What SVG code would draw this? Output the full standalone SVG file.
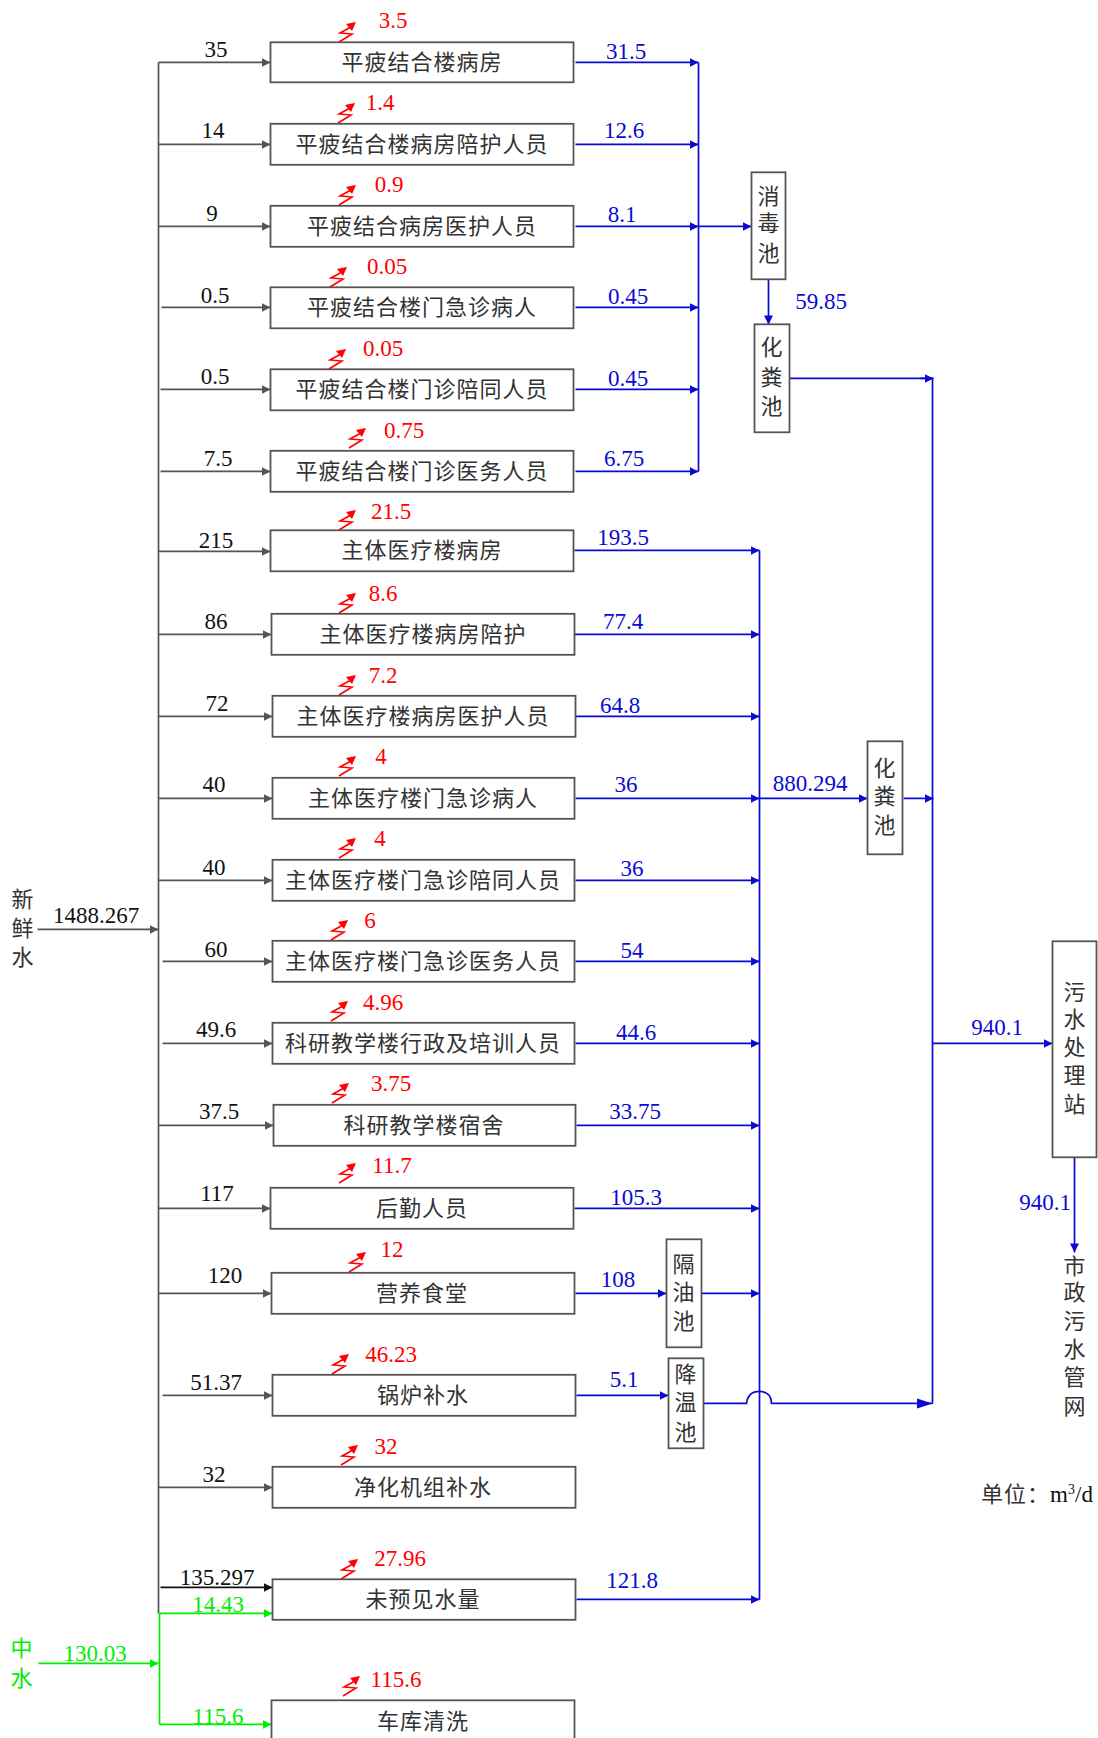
<svg xmlns="http://www.w3.org/2000/svg" xmlns:xlink="http://www.w3.org/1999/xlink" width="1098" height="1738" viewBox="0 0 1098 1738">
<style>
text{font-family:"Liberation Serif","Noto Sans CJK SC",serif;font-size:23px;text-anchor:middle}
.c{font-family:"Noto Sans CJK SC",sans-serif;font-size:22px;letter-spacing:1px;fill:#333}
.k{fill:#111}.r{fill:#f00}.b{fill:#0a0ad2}.g{fill:#0e0}
.box{fill:#fff;stroke:#555;stroke-width:1.8;transform:translate(.5px,.3px)}
.lb,.lk,.lg,.ld{fill:none;stroke-width:1.7;transform:translate(.5px,.4px)}
.lb{stroke:#0a0ad2}.lk{stroke:#555}.lg{stroke:#0e0}.ld{stroke:#111}
.ab{marker-end:url(#mb)}.ak{marker-end:url(#mk)}.ag{marker-end:url(#mg)}.ad{marker-end:url(#md)}
</style>
<defs>
<marker id="mb" markerUnits="userSpaceOnUse" markerWidth="10" markerHeight="10" refX="9" refY="5" orient="auto"><path d="M0,.5L9,5L0,9.5z" fill="#0a0ad2"/></marker>
<marker id="mk" markerUnits="userSpaceOnUse" markerWidth="10" markerHeight="10" refX="9" refY="5" orient="auto"><path d="M0,.5L9,5L0,9.5z" fill="#555"/></marker>
<marker id="mg" markerUnits="userSpaceOnUse" markerWidth="10" markerHeight="10" refX="9" refY="5" orient="auto"><path d="M0,.5L9,5L0,9.5z" fill="#0e0"/></marker>
<marker id="md" markerUnits="userSpaceOnUse" markerWidth="10" markerHeight="10" refX="9" refY="5" orient="auto"><path d="M0,.5L9,5L0,9.5z" fill="#111"/></marker>
<g id="z"><path d="M0,0L13,-8L1,-9L12,-15" fill="none" stroke="#f00" stroke-width="1.6"/><path d="M17,-20L7,-18L13,-11z" fill="#f00"/></g>
</defs>

<g id="connectors">
<path class="lk" d="M158,62V1613"/>
<path class="lk ak" d="M37,929H158"/>
<path class="lk ak" d="M158,62H270"/>
<path class="lk ak" d="M158,144H270"/>
<path class="lk ak" d="M158,226H270"/>
<path class="lk ak" d="M161,307H270"/>
<path class="lk ak" d="M160,389H270"/>
<path class="lk ak" d="M160,471H270"/>
<path class="lk ak" d="M158,551H270"/>
<path class="lk ak" d="M158,634H271"/>
<path class="lk ak" d="M158,716H272"/>
<path class="lk ak" d="M158,798H272"/>
<path class="lk ak" d="M158,880H272"/>
<path class="lk ak" d="M162,961H272"/>
<path class="lk ak" d="M162,1043H272"/>
<path class="lk ak" d="M158,1125H273"/>
<path class="lk ak" d="M158,1208H270"/>
<path class="lk ak" d="M158,1293H271"/>
<path class="lk ak" d="M162,1395H272"/>
<path class="lk ak" d="M158,1487H272"/>
<path class="ld ad" d="M160,1587H272"/>
<path class="lg" d="M159,1613V1724"/>
<path class="lg ag" d="M159,1613H272"/>
<path class="lg ag" d="M159,1724H271"/>
<path class="lg ag" d="M38,1663H158"/>

<path class="lb" d="M698,62V471"/>
<path class="lb ab" d="M575,62H698"/>
<path class="lb ab" d="M575,144H698"/>
<path class="lb ab" d="M575,226H698"/>
<path class="lb ab" d="M575,307H698"/>
<path class="lb ab" d="M575,389H698"/>
<path class="lb ab" d="M575,471H698"/>
<path class="lb ab" d="M698,226H751"/>
<path class="lb ab" d="M768,279V324"/>
<path class="lb" d="M789,378H932V1403"/>
<path class="lb ab" d="M920,378H933"/>
<path class="lb" d="M759,550V1599"/>
<path class="lb ab" d="M574,550H759"/>
<path class="lb ab" d="M574,634H759"/>
<path class="lb ab" d="M575,716H759"/>
<path class="lb ab" d="M575,798H759"/>
<path class="lb ab" d="M575,880H759"/>
<path class="lb ab" d="M575,961H759"/>
<path class="lb ab" d="M575,1043H759"/>
<path class="lb ab" d="M576,1125H759"/>
<path class="lb ab" d="M574,1208H759"/>
<path class="lb ab" d="M575,1293H666"/>
<path class="lb ab" d="M701,1293H759"/>
<path class="lb ab" d="M576,1395H668"/>
<path class="lb ab" d="M576,1599H759"/>
<path class="lb ab" d="M759,798H867"/>
<path class="lb ab" d="M903,798H933"/>
<path class="lb ab" d="M932,1043H1052"/>
<path class="lb ab" d="M1074,1157V1252"/>
<path class="lb" d="M703,1403H746C747,1395 752,1391 759,1391C766,1391 771,1395 771,1403H932"/>
<path d="M932.500,1403.400L917,1398.400V1408.400z" fill="#0a0ad2"/>

<text class="k" x="216" y="57">35</text><text class="k" x="213" y="138">14</text><text class="k" x="212" y="221">9</text>
<text class="k" x="215" y="303">0.5</text><text class="k" x="215" y="384">0.5</text><text class="k" x="218" y="466">7.5</text>
<text class="k" x="216" y="548">215</text><text class="k" x="216" y="629">86</text><text class="k" x="217" y="711">72</text>
<text class="k" x="214" y="792">40</text><text class="k" x="214" y="875">40</text><text class="k" x="216" y="957">60</text>
<text class="k" x="216" y="1037">49.6</text><text class="k" x="219" y="1119">37.5</text><text class="k" x="217" y="1201">117</text>
<text class="k" x="225" y="1283">120</text><text class="k" x="216" y="1390">51.37</text><text class="k" x="214" y="1482">32</text>
<text class="k" x="217" y="1585">135.297</text><text class="g" x="218" y="1612">14.43</text><text class="g" x="218" y="1724">115.6</text>
<text class="g" x="95" y="1661">130.03</text><text class="k" x="96" y="923">1488.267</text>

<text class="b" x="626" y="59">31.5</text><text class="b" x="624" y="138">12.6</text><text class="b" x="622" y="222">8.1</text>
<text class="b" x="628" y="304">0.45</text><text class="b" x="628" y="386">0.45</text><text class="b" x="624" y="466">6.75</text>
<text class="b" x="623" y="545">193.5</text><text class="b" x="623" y="629">77.4</text><text class="b" x="620" y="713">64.8</text>
<text class="b" x="626" y="792">36</text><text class="b" x="632" y="876">36</text><text class="b" x="632" y="958">54</text>
<text class="b" x="636" y="1040">44.6</text><text class="b" x="635" y="1119">33.75</text><text class="b" x="636" y="1205">105.3</text>
<text class="b" x="618" y="1287">108</text><text class="b" x="624" y="1387">5.1</text><text class="b" x="632" y="1588">121.8</text>
<text class="b" x="810" y="791">880.294</text><text class="b" x="821" y="309">59.85</text><text class="b" x="997" y="1035">940.1</text><text class="b" x="1045" y="1210">940.1</text>
</g>

<g id="n1"><rect class="box" x="270" y="42" width="303" height="40"/><text class="c" x="422" y="70">平疲结合楼病房</text><use xlink:href="#z" x="339" y="42"/><text class="r" x="393" y="28">3.5</text></g>
<g id="n2"><rect class="box" x="270" y="123.500" width="303" height="41"/><text class="c" x="422" y="152">平疲结合楼病房陪护人员</text><use xlink:href="#z" x="338" y="123"/><text class="r" x="380" y="110">1.4</text></g>
<g id="n3"><rect class="box" x="270" y="205.500" width="303" height="41"/><text class="c" x="422" y="234">平疲结合病房医护人员</text><use xlink:href="#z" x="339" y="205"/><text class="r" x="389" y="192">0.9</text></g>
<g id="n4"><rect class="box" x="270" y="287" width="303" height="41"/><text class="c" x="422" y="315">平疲结合楼门急诊病人</text><use xlink:href="#z" x="330" y="287"/><text class="r" x="387" y="274">0.05</text></g>
<g id="n5"><rect class="box" x="270" y="369" width="303" height="41"/><text class="c" x="422" y="397">平疲结合楼门诊陪同人员</text><use xlink:href="#z" x="329" y="369"/><text class="r" x="383" y="356">0.05</text></g>
<g id="n6"><rect class="box" x="270" y="450.500" width="303" height="41"/><text class="c" x="422" y="479">平疲结合楼门诊医务人员</text><use xlink:href="#z" x="349" y="448"/><text class="r" x="404" y="438">0.75</text></g>
<g id="n7"><rect class="box" x="270" y="530" width="303" height="41"/><text class="c" x="422" y="558">主体医疗楼病房</text><use xlink:href="#z" x="339" y="530"/><text class="r" x="391" y="519">21.5</text></g>
<g id="n8"><rect class="box" x="271" y="613.500" width="303" height="41"/><text class="c" x="423" y="642">主体医疗楼病房陪护</text><use xlink:href="#z" x="339" y="613"/><text class="r" x="383" y="601">8.6</text></g>
<g id="n9"><rect class="box" x="272" y="695.500" width="303" height="41"/><text class="c" x="423" y="724">主体医疗楼病房医护人员</text><use xlink:href="#z" x="339" y="695"/><text class="r" x="383" y="683">7.2</text></g>
<g id="n10"><rect class="box" x="272" y="777.500" width="302" height="41"/><text class="c" x="423" y="806">主体医疗楼门急诊病人</text><use xlink:href="#z" x="339" y="776"/><text class="r" x="381" y="764">4</text></g>
<g id="n11"><rect class="box" x="272" y="859.500" width="302" height="41"/><text class="c" x="423" y="888">主体医疗楼门急诊陪同人员</text><use xlink:href="#z" x="339" y="858"/><text class="r" x="380" y="846">4</text></g>
<g id="n12"><rect class="box" x="272" y="940.500" width="302" height="41"/><text class="c" x="423" y="969">主体医疗楼门急诊医务人员</text><use xlink:href="#z" x="331" y="940"/><text class="r" x="370" y="928">6</text></g>
<g id="n13"><rect class="box" x="272" y="1022.500" width="302" height="41"/><text class="c" x="423" y="1051">科研教学楼行政及培训人员</text><use xlink:href="#z" x="331" y="1021"/><text class="r" x="383" y="1010">4.96</text></g>
<g id="n14"><rect class="box" x="273" y="1104.500" width="302" height="41"/><text class="c" x="424" y="1133">科研教学楼宿舍</text><use xlink:href="#z" x="332" y="1103"/><text class="r" x="391" y="1091">3.75</text></g>
<g id="n15"><rect class="box" x="270" y="1187.500" width="303" height="41"/><text class="c" x="422" y="1216">后勤人员</text><use xlink:href="#z" x="339" y="1183"/><text class="r" x="392" y="1173">11.7</text></g>
<g id="n16"><rect class="box" x="271" y="1272.500" width="303" height="41"/><text class="c" x="422" y="1301">营养食堂</text><use xlink:href="#z" x="349" y="1272"/><text class="r" x="392" y="1257">12</text></g>
<g id="n17"><rect class="box" x="272" y="1374.500" width="303" height="41"/><text class="c" x="423" y="1403">锅炉补水</text><use xlink:href="#z" x="332" y="1374"/><text class="r" x="391" y="1362">46.23</text></g>
<g id="n18"><rect class="box" x="272" y="1466.500" width="303" height="41"/><text class="c" x="423" y="1495">净化机组补水</text><use xlink:href="#z" x="341" y="1465"/><text class="r" x="386" y="1454">32</text></g>
<g id="n19"><rect class="box" x="272" y="1579" width="303" height="40.500"/><text class="c" x="423" y="1607">未预见水量</text><use xlink:href="#z" x="341" y="1579"/><text class="r" x="400" y="1566">27.96</text></g>
<g id="n20"><rect class="box" x="271" y="1700" width="303" height="42"/><text class="c" x="423" y="1729">车库清洗</text><use xlink:href="#z" x="343" y="1696"/><text class="r" x="396" y="1687">115.6</text></g>

<g id="xiaodu"><rect class="box" x="751" y="172" width="34" height="107"/><text class="c"><tspan x="769" y="204">消</tspan><tspan x="769" y="231">毒</tspan><tspan x="769" y="261">池</tspan></text></g>
<g id="huafen1"><rect class="box" x="754" y="324" width="35" height="108"/><text class="c"><tspan x="772" y="355">化</tspan><tspan x="772" y="385">粪</tspan><tspan x="772" y="414">池</tspan></text></g>
<g id="huafen2"><rect class="box" x="867" y="741" width="35" height="113"/><text class="c"><tspan x="885" y="776">化</tspan><tspan x="885" y="804">粪</tspan><tspan x="885" y="833">池</tspan></text></g>
<g id="wushui"><rect class="box" x="1052" y="941" width="44" height="216"/><text class="c"><tspan x="1075" y="1000">污</tspan><tspan x="1075" y="1027">水</tspan><tspan x="1075" y="1055">处</tspan><tspan x="1075" y="1083">理</tspan><tspan x="1075" y="1112">站</tspan></text></g>
<g id="geyou"><rect class="box" x="666" y="1239" width="35" height="108"/><text class="c"><tspan x="684" y="1272">隔</tspan><tspan x="684" y="1300">油</tspan><tspan x="684" y="1329">池</tspan></text></g>
<g id="jiangwen"><rect class="box" x="668" y="1358" width="35" height="90"/><text class="c"><tspan x="686" y="1382">降</tspan><tspan x="686" y="1410">温</tspan><tspan x="686" y="1440">池</tspan></text></g>
<g id="xinxian"><text class="c"><tspan x="23" y="907">新</tspan><tspan x="23" y="936">鲜</tspan><tspan x="23" y="965">水</tspan></text></g>
<g id="zhongshui"><text class="c" style="fill:#0e0"><tspan x="22" y="1656">中</tspan><tspan x="22" y="1686">水</tspan></text></g>
<g id="shizheng"><text class="c"><tspan x="1075" y="1274">市</tspan><tspan x="1075" y="1300">政</tspan><tspan x="1075" y="1329">污</tspan><tspan x="1075" y="1357">水</tspan><tspan x="1075" y="1385">管</tspan><tspan x="1075" y="1414">网</tspan></text></g>
<g id="unit"><text x="1037" y="1502" class="k"><tspan style="font-family:'Noto Sans CJK SC',sans-serif;fill:#333;font-size:22px;letter-spacing:1px">单位：</tspan>m<tspan dy="-8" font-size="14">3</tspan><tspan dy="8">/d</tspan></text></g>
</svg>
